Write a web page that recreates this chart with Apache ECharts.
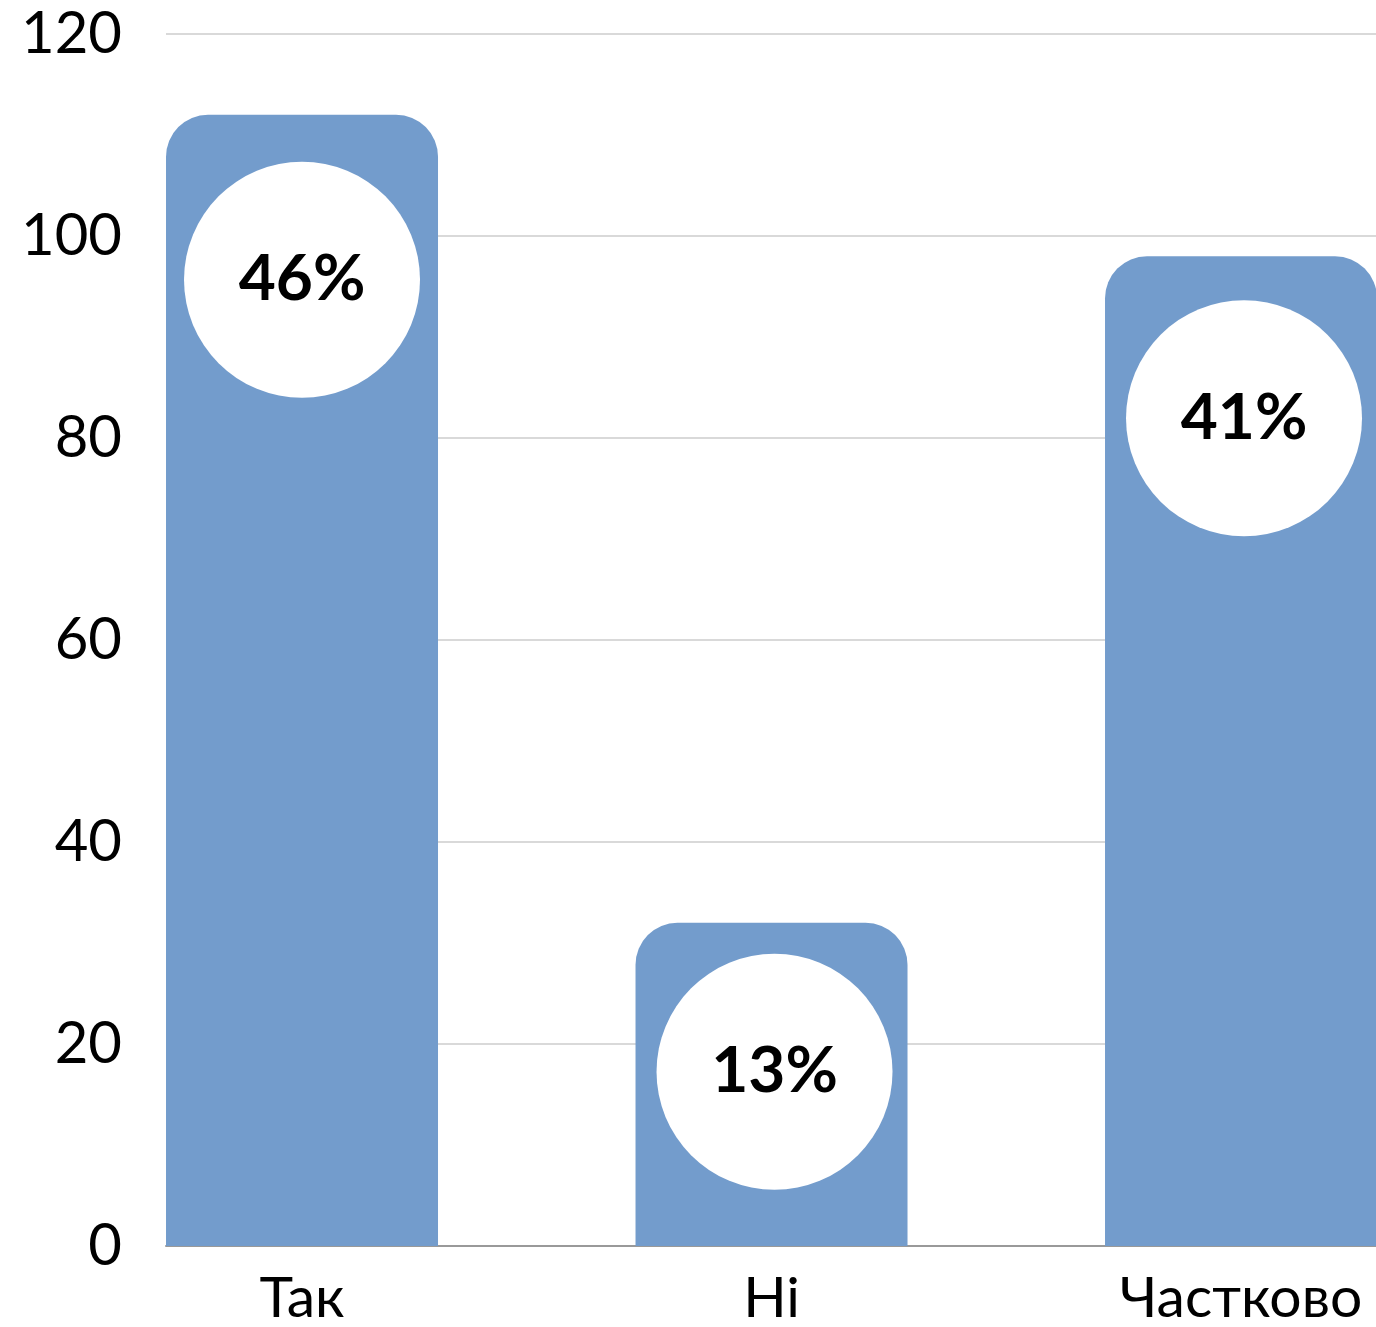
<!DOCTYPE html>
<html>
<head>
<meta charset="utf-8">
<script src="https://cdn.jsdelivr.net/npm/echarts@6/dist/echarts.min.js"></script>
<style>
html,body{margin:0;padding:0;background:#fff;}
#chart{width:1376px;height:1327px;}
</style>
</head>
<body>
<div id="chart"></div>
<script>
const categories = ['Так', 'Ні', 'Частково'];
const values = [112, 32, 98];
const percentLabels = ['46%', '13%', '41%'];
const yTicks = [0, 20, 40, 60, 80, 100, 120];

// label placement (style only): offset of circle centre from the bar top
const labelOffsets = [[0, 165], [3, 149], [3, 162]];

const chart = echarts.init(document.getElementById('chart'));

chart.setOption({
  backgroundColor: '#ffffff',
  animation: false,
  grid: { left: 166, right: 0, top: 34, bottom: 81, containLabel: false },
  xAxis: {
    type: 'value',
    min: -0.2897,
    max: 2.2875,
    splitLine: { show: false },
    axisTick: { show: false },
    axisLine: { show: true, lineStyle: { color: '#999999', width: 2 } },
    axisLabel: {
      customValues: categories.map((c, i) => i),
      formatter: v => categories[Math.round(v)] || '',
      fontFamily: 'Lato',
      fontSize: 57,
      color: '#000',
      margin: 24
    }
  },
  yAxis: {
    type: 'value',
    min: yTicks[0],
    max: yTicks[yTicks.length - 1],
    interval: 20,
    axisLine: { show: false },
    axisTick: { show: false },
    splitLine: { lineStyle: { color: '#cccccc', width: 1.5 } },
    axisLabel: {
      fontFamily: 'Lato',
      fontSize: 58,
      color: '#000',
      margin: 44,
      padding: [8, 0, 0, 0]
    }
  },
  series: [{
    type: 'bar',
    barWidth: 272,
    data: categories.map((c, i) => ({
      value: [i, values[i]],
      label: { offset: labelOffsets[i] }
    })),
    itemStyle: { color: '#739CCC', borderRadius: [42, 42, 0, 0] },
    label: {
      show: true,
      position: 'insideTop',
      distance: 0,
      formatter: p => percentLabels[p.dataIndex],
      fontFamily: 'Lato',
      fontWeight: 'bold',
      fontSize: 64,
      color: '#000',
      backgroundColor: '#ffffff',
      width: 236,
      height: 236,
      lineHeight: 240,
      borderRadius: 118,
      align: 'center',
      verticalAlign: 'middle'
    }
  }]
});
</script>
</body>
</html>
